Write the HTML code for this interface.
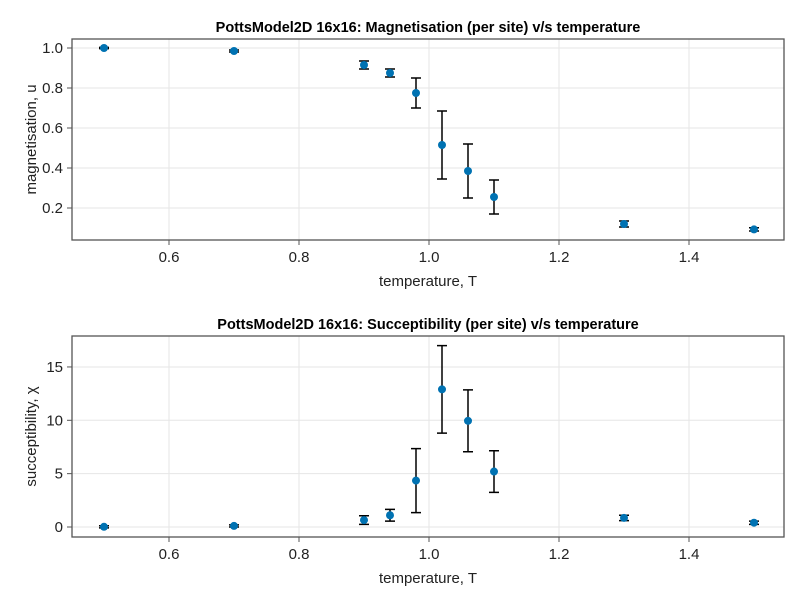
<!DOCTYPE html>
<html><head><meta charset="utf-8"><style>
body{margin:0;background:#fff;}
svg text{font-family:"Liberation Sans",sans-serif;}
</style></head><body>
<svg id="c" width="800" height="600" xmlns="http://www.w3.org/2000/svg"></svg>
<script>
const temps=[0.5,0.7,0.9,0.94,0.98,1.02,1.06,1.1,1.3,1.5];
const magVals=[1.0,0.985,0.915,0.875,0.775,0.515,0.385,0.255,0.12,0.093];
const magErrs=[0.003,0.005,0.02,0.02,0.075,0.17,0.135,0.085,0.015,0.008];
const susVals=[0.02,0.1,0.65,1.1,4.35,12.9,9.95,5.2,0.85,0.4];
const susErrs=[0.1,0.1,0.4,0.55,3.0,4.1,2.9,1.95,0.25,0.15];
const xTicks=[0.6,0.8,1.0,1.2,1.4];
const xTickLabels=["0.6","0.8","1.0","1.2","1.4"];
const magTicks=[0.2,0.4,0.6,0.8,1.0];
const magTickLabels=["0.2","0.4","0.6","0.8","1.0"];
const susTicks=[0,5,10,15];
const susTickLabels=["0","5","10","15"];

const svg=document.getElementById('c');
const NS="http://www.w3.org/2000/svg";
function el(tag,attrs,parent){const e=document.createElementNS(NS,tag);for(const k in attrs)e.setAttribute(k,attrs[k]);(parent||svg).appendChild(e);return e;}
const L=72,R=784;
const xs=v=>429+(v-1.0)*650;

function panel(top,bot,ys,yTicks,yLabels,vals,errs,title,ylabel,key){
  const g=el('g',{});
  
  
  xTicks.forEach((t,i)=>{
    const x=xs(t);
    const gl=el('line',{x1:x,x2:x,y1:top,y2:bot,stroke:'#e6e6e6','stroke-width':1},g);
    
    
    el('line',{x1:x,x2:x,y1:bot,y2:bot+5,stroke:'#555'},g);
    const tx=el('text',{x:x,y:bot+22,'font-size':15,'text-anchor':'middle',fill:'#222'},g);
    tx.textContent=xTickLabels[i];
    
    
  });
  yTicks.forEach((t,i)=>{
    const y=ys(t);
    const gl=el('line',{x1:L,x2:R,y1:y,y2:y,stroke:'#e6e6e6','stroke-width':1},g);
    
    
    el('line',{x1:L-5,x2:L,y1:y,y2:y,stroke:'#555'},g);
    const tx=el('text',{x:L-9,y:y+5,'font-size':15,'text-anchor':'end',fill:'#222'},g);
    tx.textContent=yLabels[i];
    
    
  });
  const fr=el('rect',{x:L,y:top,width:R-L,height:bot-top,fill:'none',stroke:'#555','stroke-width':1.3},g);
  
  
  temps.forEach((t,i)=>{
    const x=xs(t),y1=ys(vals[i]-errs[i]),y2=ys(vals[i]+errs[i]);
    const eb=el('path',{d:`M${x},${y1}V${y2}M${x-5},${y1}H${x+5}M${x-5},${y2}H${x+5}`,stroke:'#000','stroke-width':1.5,fill:'none'},g);
    
    
    const c=el('circle',{cx:x,cy:ys(vals[i]),r:4,fill:'#0072b2'},g);
    
    
  });
  const ti=el('text',{x:(L+R)/2,y:top-7,'font-size':14.5,'font-weight':'bold','text-anchor':'middle',fill:'#000'},g);
  ti.textContent=title;
  
  
  const xl=el('text',{x:(L+R)/2,y:bot+46,'font-size':15,'text-anchor':'middle',fill:'#222'},g);
  xl.textContent='temperature, T';
  
  
  const cy=(top+bot)/2;
  const yl=el('text',{x:36,y:cy,'font-size':15,'text-anchor':'middle',fill:'#222',transform:`rotate(-90 36 ${cy})`},g);
  yl.textContent=ylabel;
  
  
}
panel(39,240,v=>248-v*200,magTicks,magTickLabels,magVals,magErrs,'PottsModel2D 16x16: Magnetisation (per site) v/s temperature','magnetisation, u','magnetisation');
panel(336,537,v=>527-v*10.67,susTicks,susTickLabels,susVals,susErrs,'PottsModel2D 16x16: Succeptibility (per site) v/s temperature','succeptibility, χ','susceptibility');
</script>
</body></html>
